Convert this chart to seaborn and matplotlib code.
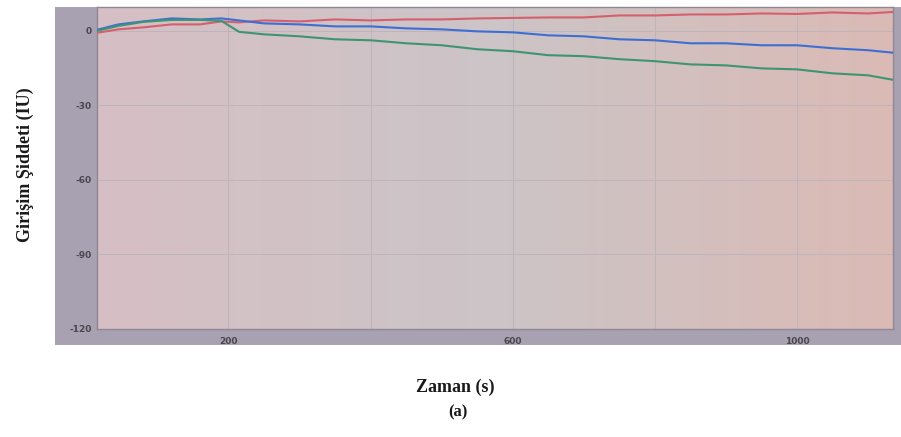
import matplotlib
matplotlib.use("Agg")
import matplotlib.pyplot as plt
from matplotlib.patches import Rectangle
import numpy as np
import pandas as pd
import seaborn as sns

# time axis (s) and the three traces
TIME = [15, 45, 80, 120, 160, 190, 215, 250, 300, 350, 400, 450, 500,
        550, 600, 650, 700, 750, 800, 850, 900, 950, 1000, 1050, 1100, 1135]
RED = [-0.8, 0.6, 1.4, 2.6, 2.6, 3.8, 3.4, 4.2, 3.8, 4.6, 4.2, 4.6, 4.6,
       5.0, 5.2, 5.4, 5.4, 6.2, 6.2, 6.6, 6.6, 7.0, 6.8, 7.4, 7.0, 7.6]
BLUE = [0.4, 2.6, 3.8, 5.0, 4.6, 5.0, 4.2, 3.0, 2.6, 1.8, 1.8, 1.0, 0.6,
        -0.2, -0.6, -1.8, -2.2, -3.4, -3.8, -5.0, -5.0, -5.8, -5.8, -7.0, -7.8, -8.8]
GREEN = [0.0, 2.0, 3.6, 4.4, 4.4, 4.0, -0.4, -1.4, -2.2, -3.4, -3.8, -5.0, -5.8,
         -7.4, -8.2, -9.8, -10.2, -11.4, -12.2, -13.5, -13.9, -15.1, -15.5, -17.1, -17.9, -19.7]

Y_TICKS = [0, -30, -60, -90, -120]
X_TICKS = [200, 600, 1000]

df = pd.concat([
    pd.DataFrame({"t": TIME, "v": RED, "s": "red"}),
    pd.DataFrame({"t": TIME, "v": BLUE, "s": "blue"}),
    pd.DataFrame({"t": TIME, "v": GREEN, "s": "green"}),
])
palette = {"red": "#d4606e", "blue": "#3d6fd2", "green": "#3f9472"}

sns.set_theme(style="white")
plt.rcParams["axes.unicode_minus"] = False
W, H = 901, 437
fig = plt.figure(figsize=(W / 100, H / 100), dpi=100)
fig.patch.set_facecolor("white")

# grey frame of the monitor screen
fig.patches.append(Rectangle((55 / W, 1 - 345 / H), (W - 55) / W, 338 / H,
                             transform=fig.transFigure, facecolor="#a8a1b1",
                             edgecolor="none", zorder=-5))

ax = fig.add_axes([97 / W, 1 - 329 / H, 796 / W, 322 / H])
ax.set_zorder(1)
ax.set_facecolor("#cdbfc0")

# soft pinkish/grey glare across the plot area
left = np.array([0.84, 0.75, 0.77])
mid = np.array([0.80, 0.77, 0.78])
right = np.array([0.86, 0.73, 0.71])
g = np.linspace(0, 1, 256)[:, None]
cols = np.where(g < 0.5, left + (mid - left) * g * 2, mid + (right - mid) * (g - 0.5) * 2)
rgb = np.repeat(cols[None, :, :], 2, axis=0)
ax.imshow(rgb, extent=[15, 1135, -120, 9.6], aspect="auto", zorder=0)

sns.lineplot(data=df, x="t", y="v", hue="s", palette=palette, linewidth=1.5,
             legend=False, ax=ax, zorder=3)

ax.set_xlim(15, 1135)
ax.set_ylim(-120, 9.6)
ax.set_xticks(X_TICKS)
ax.set_yticks(Y_TICKS)
ax.set_xticks([400, 800], minor=True)
ax.grid(True, which="both", color="#bdb5bb", linewidth=0.7, zorder=1)
ax.tick_params(length=0, labelsize=6.5, labelcolor="#4a4650")
ax.tick_params(which="minor", length=0)
for lab in ax.get_xticklabels() + ax.get_yticklabels():
    lab.set_fontweight("bold")
ax.tick_params(axis="x", pad=6)
ax.tick_params(axis="y", pad=4)
ax.set_xlabel("")
ax.set_ylabel("")
for sp in ax.spines.values():
    sp.set_color("#8f8794")
    sp.set_linewidth(1.0)

serif = {"family": "Liberation Serif", "weight": "bold"}
fig.text(25 / W, 1 - 165 / H, "Girişim Şiddeti (IU)", rotation=90, ha="center",
         va="center", fontsize=13, fontdict=serif, color="#1a1a1a")
fig.text(455 / W, 1 - 387 / H, "Zaman (s)", ha="center", va="center",
         fontsize=13, fontdict=serif, color="#1a1a1a")
fig.text(458 / W, 1 - 412 / H, "(a)", ha="center", va="center",
         fontsize=12, fontdict=serif, color="#1a1a1a")

fig.savefig("out.png", dpi=100)
